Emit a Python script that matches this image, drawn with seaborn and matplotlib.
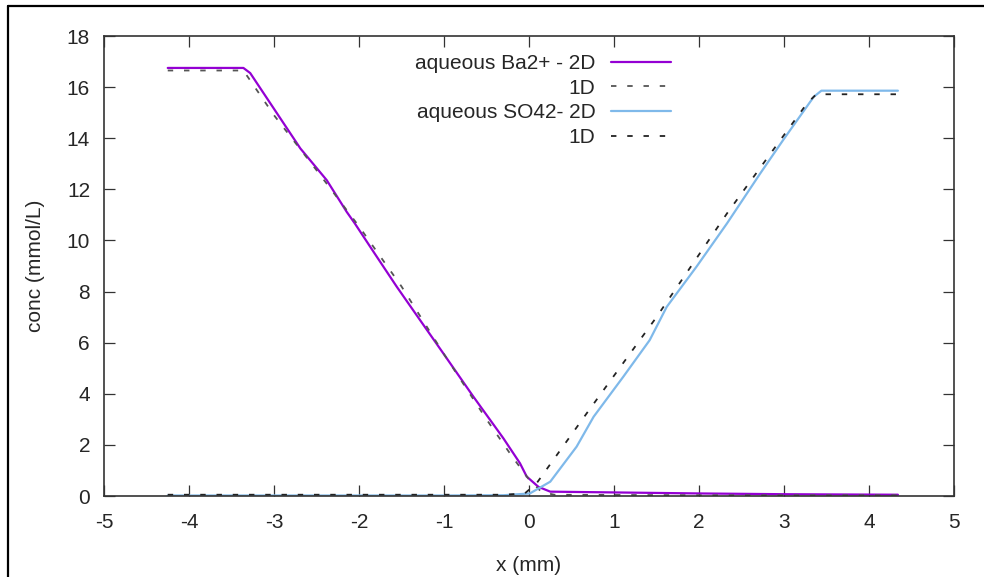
import matplotlib
matplotlib.use("Agg")
import matplotlib.pyplot as plt
from matplotlib.lines import Line2D
import seaborn as sns

# ---- data ----
ba_2d_x = [-4.25, -3.36, -3.28, -3.0, -2.69, -2.38, -2.145, -2.05, -1.83, -1.556,
           -1.008, -0.655, -0.302, -0.106, -0.027, 0.11, 0.25, 1.0, 2.0, 3.0, 4.34]
ba_2d_y = [16.75, 16.75, 16.55, 15.15, 13.6, 12.36, 11.12, 10.67, 9.56, 8.19,
           5.58, 3.89, 2.26, 1.28, 0.76, 0.36, 0.17, 0.14, 0.1, 0.07, 0.05]

ba_1d_x = [-4.25, -3.36, -3.0, -2.5, -2.0, -1.5, -1.0, -0.5, -0.2, 0.0, 0.15, 0.3,
           1.0, 2.0, 3.0, 4.34]
ba_1d_y = [16.65, 16.65, 14.9, 12.75, 10.55, 8.2, 5.55, 3.0, 1.55, 0.65, 0.15, 0.05,
           0.04, 0.03, 0.03, 0.03]

so4_2d_x = [-4.25, -1.0, -0.3, 0.01, 0.25, 0.56, 0.76, 1.11, 1.42, 1.62, 1.97, 2.33,
            2.72, 2.99, 3.35, 3.44, 4.34]
so4_2d_y = [0.02, 0.02, 0.03, 0.1, 0.56, 1.93, 3.1, 4.67, 6.1, 7.4, 8.97, 10.67,
            12.62, 13.93, 15.62, 15.86, 15.86]

so4_1d_x = [-4.25, -0.3, -0.05, 0.09, 0.68, 1.5, 2.33, 3.27, 3.38, 4.34]
so4_1d_y = [0.05, 0.05, 0.1, 0.5, 3.24, 7.0, 11.06, 15.36, 15.72, 15.72]

labels = ["aqueous Ba2+ - 2D", "1D", "aqueous SO42- 2D", "1D"]
x_ticks = [-5, -4, -3, -2, -1, 0, 1, 2, 3, 4, 5]
y_ticks = [0, 2, 4, 6, 8, 10, 12, 14, 16, 18]

# ---- style ----
sns.set_style("ticks")
plt.rcParams["font.family"] = ["Liberation Sans", "DejaVu Sans"]
FS = 15
plt.rcParams["font.size"] = FS

fig = plt.figure(figsize=(9.84, 5.77), dpi=100)
ax = fig.add_axes([104 / 984, 81 / 577, 850 / 984, 460 / 577])

purple = "#9400d3"
blue = "#7fb9ea"
dash = (0, (3, 6))

sns.lineplot(x=ba_2d_x, y=ba_2d_y, ax=ax, color=purple, linewidth=1.6,
             label=labels[0], sort=False)
sns.lineplot(x=ba_1d_x, y=ba_1d_y, ax=ax, color="#555555", linewidth=1.3,
             linestyle=dash, label=labels[1], sort=False)
sns.lineplot(x=so4_2d_x, y=so4_2d_y, ax=ax, color=blue, linewidth=1.6,
             label=labels[2], sort=False)
sns.lineplot(x=so4_1d_x, y=so4_1d_y, ax=ax, color="#222222", linewidth=1.3,
             linestyle=dash, label=labels[3], sort=False)

ax.set_xlim(-5, 5)
ax.set_ylim(0, 18)
ax.set_xticks(x_ticks)
ax.set_yticks(y_ticks)
ax.set_xticklabels([str(t) for t in x_ticks])
ax.set_yticklabels([str(t) for t in y_ticks])
ax.tick_params(direction="in", length=8, width=0.9, color="#333333",
               top=True, right=True, labelsize=FS)
ax.tick_params(axis="x", pad=12.5)
ax.tick_params(axis="y", pad=10)
for s in ax.spines.values():
    s.set_visible(True)
    s.set_linewidth(1.2)
    s.set_color("#333333")

ax.set_xlabel("x (mm)", fontsize=FS, labelpad=17)
ax.set_ylabel("conc (mmol/L)", fontsize=FS, labelpad=16)

leg = ax.legend(loc="upper right", bbox_to_anchor=(0.667, 0.961), frameon=False,
                markerfirst=False, borderaxespad=0, borderpad=0,
                handlelength=2.9, handletextpad=0.72, labelspacing=0.27,
                fontsize=FS)

# outer frame (left and top edges of the screenshot)
fig.add_artist(Line2D([8 / 984, 8 / 984], [0, 1 - 6 / 577], color="black",
                      linewidth=1.6, transform=fig.transFigure))
fig.add_artist(Line2D([8 / 984, 1], [1 - 6 / 577, 1 - 6 / 577], color="black",
                      linewidth=1.6, transform=fig.transFigure))

fig.savefig("out.png", dpi=100)
